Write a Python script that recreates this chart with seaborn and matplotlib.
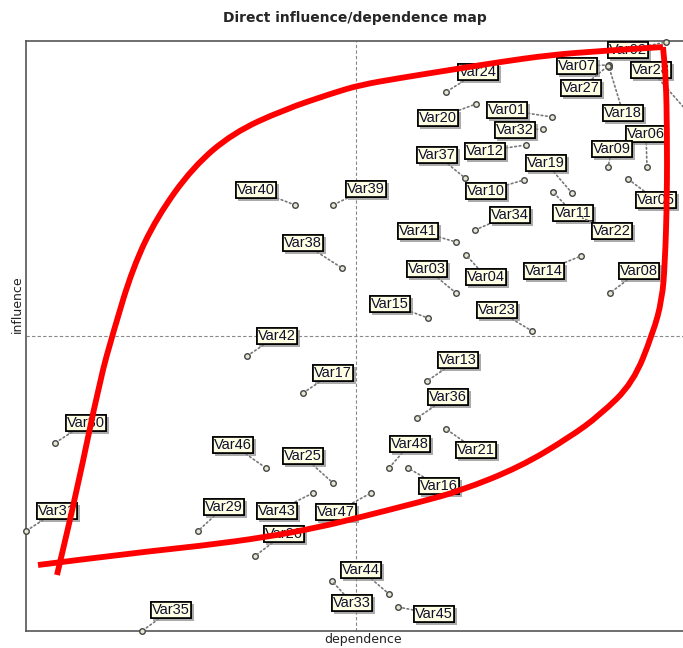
import matplotlib
matplotlib.use("Agg")
import matplotlib.pyplot as plt
import matplotlib.patheffects as pe
from matplotlib.path import Path
from matplotlib.patches import PathPatch
import pandas as pd
import seaborn as sns

# ── Variables (point = dependence / influence) ─────────────
names = ["Var01", "Var02", "Var03", "Var04", "Var05", "Var06", "Var07", "Var08",
         "Var09", "Var10", "Var11", "Var12", "Var13", "Var14", "Var15", "Var16",
         "Var17", "Var18", "Var19", "Var20", "Var21", "Var22", "Var23", "Var24",
         "Var25", "Var26", "Var27", "Var28", "Var29", "Var30", "Var31", "Var32",
         "Var33", "Var34", "Var35", "Var36", "Var37", "Var38", "Var39", "Var40",
         "Var41", "Var42", "Var43", "Var44", "Var45", "Var46", "Var47", "Var48"]
dependence = [526, 640, 430, 440, 602, 621, 583, 584,
              582, 498, 527, 500, 401, 555, 402, 382,
              277, 583, 546, 450, 420, 554, 506, 420,
              307, 229, 582, 660, 172, 29, 0, 517,
              306, 449, 116, 391, 439, 316, 307, 269,
              430, 221, 287, 363, 372, 240, 345, 363]
influence = [514, 589, 338, 376, 452, 464, 566, 338,
             464, 451, 439, 486, 250, 375, 313, 163,
             238, 564, 438, 527, 202, 414, 300, 539,
             148, 75, 565, 521, 100, 188, 100, 502,
             50, 401, 0, 213, 453, 363, 426, 426,
             389, 275, 138, 37, 24, 163, 138, 163]

# label offsets from each point (pixels)
label_dx = [-45, -38, -29, 20, 28, -1, -32, 29,
            4, -38, 20, -41, 31, -37, -38, 31,
            30, 14, -26, -38, 30, 32, -35, 32,
            -30, 29, -27, -35, 26, 31, 31, -28,
            20, 35, 29, 31, -28, -39, 33, -39,
            -38, 30, -36, -28, 36, -33, -35, 21]
label_dy = [7, -8, 24, -22, -21, 33, -1, 22,
            18, -11, -21, -6, 21, -15, 14, -18,
            20, -46, 30, -14, -21, -14, 21, 20,
            27, 22, -22, 40, 24, 20, 20, -1,
            -22, 15, 21, 21, 23, 25, 16, 15,
            11, 20, -18, 24, -7, 23, -19, 24]

# hand-drawn red outline: lower stroke, then upper stroke (sharp corner between)
red_low_dep = [12, 107, 174, 241, 294, 331, 394, 434, 494, 544, 574, 607, 627, 636,
               639, 641, 641, 640, 637]
red_low_inf = [66, 78, 85, 94, 104, 113, 129, 140, 164, 194, 216, 248, 298, 331,
               368, 434, 501, 551, 584]
red_up_dep = [637, 574, 524, 474, 424, 374, 334, 307, 257, 207, 167, 131, 107, 87, 74, 51, 31]
red_up_inf = [584, 580, 576, 569, 561, 553, 546, 538, 521, 498, 464, 414, 364, 298, 251, 141, 56]

df = pd.DataFrame({"name": names, "dependence": dependence, "influence": influence})


def smooth_path(xs, ys):
    # quadratic curves through mid-points, the listed points act as control points
    pts = list(zip(xs, ys))
    verts = [pts[0]]
    codes = [Path.MOVETO]
    for i in range(1, len(pts) - 1):
        mid = ((pts[i][0] + pts[i + 1][0]) / 2, (pts[i][1] + pts[i + 1][1]) / 2)
        verts += [pts[i], mid]
        codes += [Path.CURVE3, Path.CURVE3]
    verts.append(pts[-1])
    codes.append(Path.LINETO)
    return Path(verts, codes)


sns.set_style("white")
plt.rcParams["font.family"] = ["DejaVu Sans"]

fig = plt.figure(figsize=(6.83, 6.48), dpi=100)
ax = fig.add_axes([26 / 683, 17 / 648, 664 / 683, 590 / 648])
ax.set_xlim(0, 664)
ax.set_ylim(0, 590)

ax.axvline(330, color="#888888", lw=0.8, ls=(0, (3, 2)), zorder=1)
ax.axhline(295, color="#888888", lw=0.8, ls=(0, (3, 2)), zorder=1)

sns.scatterplot(data=df, x="dependence", y="influence", ax=ax, s=16,
                color="#e6e6d2", edgecolor="#444444", linewidth=1.0,
                zorder=4, clip_on=False, legend=False)

for n, x, y, dx, dy in zip(names, dependence, influence, label_dx, label_dy):
    ann = ax.annotate(n, (x, y), xytext=(dx, dy), textcoords="offset pixels",
                      ha="center", va="center", fontsize=10.5,
                      family="Liberation Sans", color="#101030", zorder=6,
                      annotation_clip=False,
                      bbox=dict(boxstyle="square,pad=0.1", fc="#ffffe4",
                                ec="black", lw=1.2),
                      arrowprops=dict(arrowstyle="-", ls=":", color="#777777",
                                      lw=1.2, shrinkA=0, shrinkB=2))
    ann.get_bbox_patch().set_path_effects(
        [pe.withSimplePatchShadow(offset=(2, -2), shadow_rgbFace="#888888", alpha=0.7),
         pe.Normal()])

for xs, ys in [(red_low_dep, red_low_inf), (red_up_dep, red_up_inf)]:
    ax.add_patch(PathPatch(smooth_path(xs, ys), fill=False, ec="#ff0000", lw=4.2,
                           joinstyle="round", capstyle="butt", zorder=8, clip_on=False))

ax.set_xticks([])
ax.set_yticks([])
ax.set_xlabel("")
ax.set_ylabel("")
for s in ax.spines.values():
    s.set_color("#555555")
    s.set_linewidth(1.2)

fig.text(355 / 683, 1 - 18 / 648, "Direct influence/dependence map",
         ha="center", va="center", fontsize=10, fontweight="bold")
fig.text(17 / 683, 1 - 304 / 648, "influence", rotation=90,
         ha="center", va="center", fontsize=9, color="#222222")
fig.text(363 / 683, 1 - 640 / 648, "dependence",
         ha="center", va="center", fontsize=9, color="#222222")

fig.savefig("out.png", dpi=100)
